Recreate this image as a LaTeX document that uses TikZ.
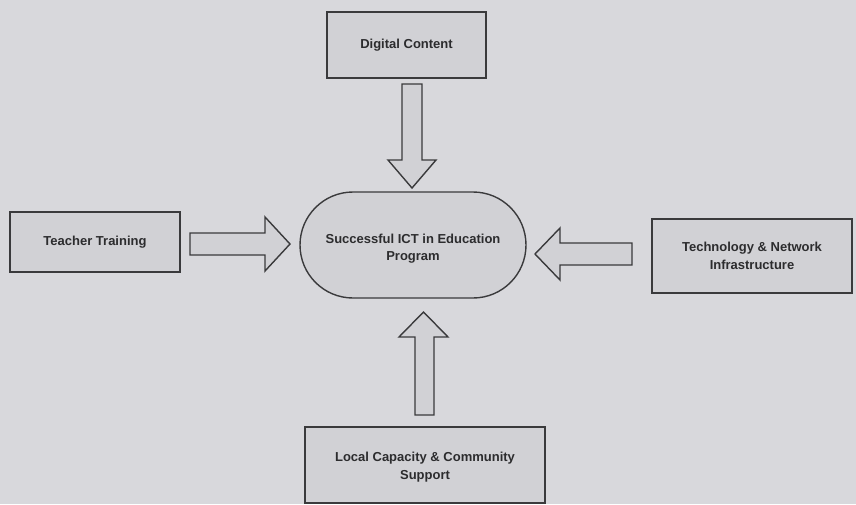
\documentclass[tikz,border=0pt]{standalone}
\usepackage{fontspec}
\setmainfont{Liberation Sans}
\usetikzlibrary{shapes.misc}
\definecolor{bgc}{HTML}{D8D8DC}
\definecolor{boxc}{HTML}{D1D1D5}
\definecolor{linec}{HTML}{3A3A3C}
\definecolor{textc}{HTML}{2C2C2E}
\tikzset{
  box/.style={draw=linec, fill=boxc, line width=1.4pt, inner sep=0pt,
    font=\fontsize{13}{17.5}\selectfont\bfseries, text=textc, align=center},
  blockarrow/.style={draw=linec, fill=boxc, line width=1.4pt, line join=miter}
}
\begin{document}
\begin{tikzpicture}[x=1pt,y=-1pt]
\fill[bgc] (0,0) rectangle (856,504);
\useasboundingbox (0,0) rectangle (856,504);
\node[box, minimum width=159pt, minimum height=66pt] (dc) at (406.5,45) {Digital Content};
\node[box, minimum width=170pt, minimum height=60pt] (tt) at (95,242) {Teacher Training};
\node[box, minimum width=200pt, minimum height=74pt] (tn) at (752,256) {Technology \& Network\\Infrastructure};
\node[box, minimum width=240pt, minimum height=76pt] (lc) at (425,465) {\rule{0pt}{14pt}Local Capacity \& Community\\Support};
\node[box, rounded rectangle, minimum width=226pt, minimum height=106pt] (ict) at (413,245) {\rule{0pt}{17pt}Successful ICT in Education\\Program};
% down arrow (Digital Content -> centre)
\draw[blockarrow] (402,84) -- (422,84) -- (422,160) -- (436,160) -- (412,188) -- (388,160) -- (402,160) -- cycle;
% right arrow (Teacher Training -> centre)
\draw[blockarrow] (190,233) -- (265,233) -- (265,217) -- (290,244) -- (265,271) -- (265,255) -- (190,255) -- cycle;
% left arrow (Technology -> centre)
\draw[blockarrow] (632,243) -- (560,243) -- (560,228) -- (535,254) -- (560,280) -- (560,265) -- (632,265) -- cycle;
% up arrow (Local Capacity -> centre)
\draw[blockarrow] (415,415) -- (415,337) -- (399,337) -- (423.5,312) -- (448,337) -- (434,337) -- (434,415) -- cycle;
\end{tikzpicture}
\end{document}
